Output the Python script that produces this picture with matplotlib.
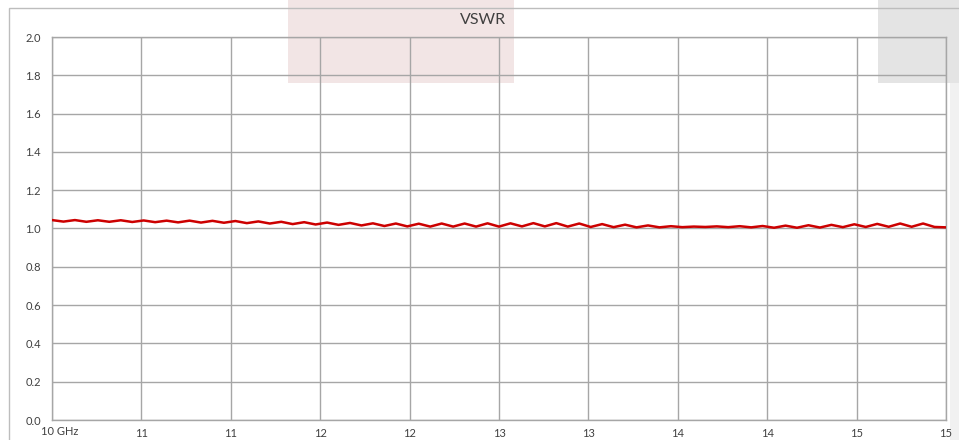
import numpy as np
import matplotlib
matplotlib.use("Agg")
import matplotlib.pyplot as plt
from matplotlib.patches import Rectangle
from matplotlib.transforms import ScaledTranslation

plt.rcParams['font.family'] = ['Lato', 'DejaVu Sans']

# ---- data ----
title = "VSWR"
x_ticks = [10.0, 10.5, 11.0, 11.5, 12.0, 12.5, 13.0, 13.5, 14.0, 14.5, 15.0]
x_tick_labels = ["10 GHz", "11", "11", "12", "12", "13", "13", "14", "14", "15", "15"]
y_ticks = [0.0, 0.2, 0.4, 0.6, 0.8, 1.0, 1.2, 1.4, 1.6, 1.8, 2.0]
y_tick_labels = ["0.0", "0.2", "0.4", "0.6", "0.8", "1.0", "1.2", "1.4", "1.6", "1.8", "2.0"]

freq = np.linspace(10.0, 15.0, 79)  # sampling grid of the sweep (GHz)
vswr = [
    1.044, 1.036, 1.044, 1.035, 1.043, 1.035, 1.043, 1.034, 1.042, 1.033,
    1.041, 1.032, 1.041, 1.031, 1.040, 1.030, 1.039, 1.028, 1.037, 1.026,
    1.035, 1.023, 1.033, 1.021, 1.031, 1.019, 1.029, 1.016, 1.027, 1.013,
    1.026, 1.011, 1.025, 1.010, 1.026, 1.010, 1.026, 1.010, 1.027, 1.010,
    1.027, 1.011, 1.028, 1.011, 1.028, 1.010, 1.026, 1.008, 1.023, 1.007,
    1.020, 1.006, 1.016, 1.006, 1.012, 1.007, 1.010, 1.008, 1.011, 1.007,
    1.012, 1.006, 1.013, 1.004, 1.015, 1.004, 1.017, 1.005, 1.019, 1.007,
    1.022, 1.008, 1.024, 1.009, 1.026, 1.009, 1.026, 1.008, 1.006,
]

W, H = 959, 440
fig = plt.figure(figsize=(W / 100, H / 100), dpi=100)
fig.patch.set_facecolor("white")

def fx(px):
    return px / W

def fy(py):
    return 1 - py / H

# background decorations (figure coords)
fig.patches.append(Rectangle((fx(288), fy(83)), fx(514) - fx(288), fy(0) - fy(83),
                             transform=fig.transFigure, facecolor="#f2e5e5",
                             edgecolor="none", zorder=0))
fig.patches.append(Rectangle((fx(878), fy(83)), fx(959) - fx(878), fy(0) - fy(83),
                             transform=fig.transFigure, facecolor="#e4e4e4",
                             edgecolor="none", zorder=0))
fig.patches.append(Rectangle((fx(950), fy(440)), fx(959) - fx(950), fy(83) - fy(440),
                             transform=fig.transFigure, facecolor="#f1f1f1",
                             edgecolor="none", zorder=0))
# chart frame
fig.patches.append(Rectangle((fx(9), fy(445)), fx(970) - fx(9), fy(8) - fy(445),
                             transform=fig.transFigure, facecolor="none",
                             edgecolor="#bdbdbd", linewidth=1.0, zorder=1))

ax = fig.add_axes([fx(52), fy(420), fx(946) - fx(52), fy(37) - fy(420)])
ax.set_facecolor("none")
ax.set_zorder(2)

ax.plot(freq, vswr, color="#cc0000", linewidth=1.8, zorder=3,
        solid_joinstyle="round")

ax.set_xlim(10.0, 15.0)
ax.set_ylim(0.0, 2.0)
ax.set_xticks(x_ticks)
ax.set_xticklabels(x_tick_labels)
ax.set_yticks(y_ticks)
ax.set_yticklabels(y_tick_labels)
ax.grid(True, color="#a6a6a6", linewidth=1.0)
ax.set_axisbelow(True)
for s in ax.spines.values():
    s.set_color("#a6a6a6")
    s.set_linewidth(1.0)
ax.tick_params(axis="both", length=0, colors="#404040", labelsize=8)
ax.tick_params(axis="y", pad=8)
ax.tick_params(axis="x", pad=6)

# first x label shifted like the original
lbl0 = ax.get_xticklabels()[0]
lbl0.set_transform(lbl0.get_transform() + ScaledTranslation(8 / 100, 2 / 100, fig.dpi_scale_trans))

fig.text(fx(483), fy(20), title, ha="center", va="center", fontsize=11.5, color="#404040")

fig.savefig("out.png", dpi=100)
